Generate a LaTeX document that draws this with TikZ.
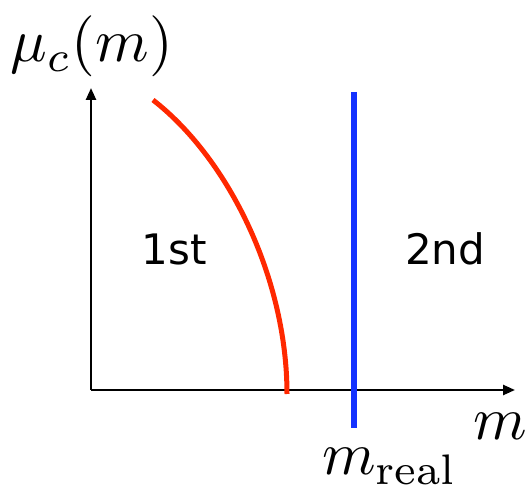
\documentclass[tikz,border=0pt]{standalone}
\usepackage{graphicx}
\usepackage{fontspec}
\newfontfamily\labelfont{DejaVu Sans}
\usetikzlibrary{arrows.meta}
\definecolor{curvered}{RGB}{255,40,0}
\definecolor{lineblue}{RGB}{20,50,255}
\newcommand{\bigmath}[1]{\scalebox{6.1}{$#1$}}
\begin{document}
\begin{tikzpicture}[x=1pt,y=1pt,
  axis/.style={line width=2.5pt,-{Triangle[length=12pt,width=10pt]}},
  mathlabel/.style={inner sep=0pt},
  phaselabel/.style={font=\labelfont\fontsize{42}{44}\selectfont, inner sep=0pt}]
\useasboundingbox (0,0) rectangle (529,489);
\coordinate (O) at (91,99);
\coordinate (ytip) at (91,401);
\coordinate (xtip) at (515,99);
\draw[axis] (O) -- (ytip);
\draw[axis] (O) -- (xtip);
\coordinate (rtop) at (153,389);
\coordinate (rbot) at (287,95);
\draw[curvered, line width=5pt] (rtop) .. controls (230,329) and (287,209) .. (rbot);
\coordinate (btop) at (354,397);
\coordinate (bbot) at (354,61);
\draw[lineblue, line width=6pt] (btop) -- (bbot);
\node[mathlabel, anchor=base west] (ylab) at (10,427) {\bigmath{\mu_c(m)}};
\node[mathlabel, anchor=base east] (xlab) at (527,49) {\bigmath{m}};
\node[mathlabel, anchor=base west] (mreal) at (322,14) {\bigmath{m_{\mathrm{real}}}};
\node[phaselabel] (first) at (174,240) {1st};
\node[phaselabel] (second) at (445,240) {2nd};
\end{tikzpicture}
\end{document}
